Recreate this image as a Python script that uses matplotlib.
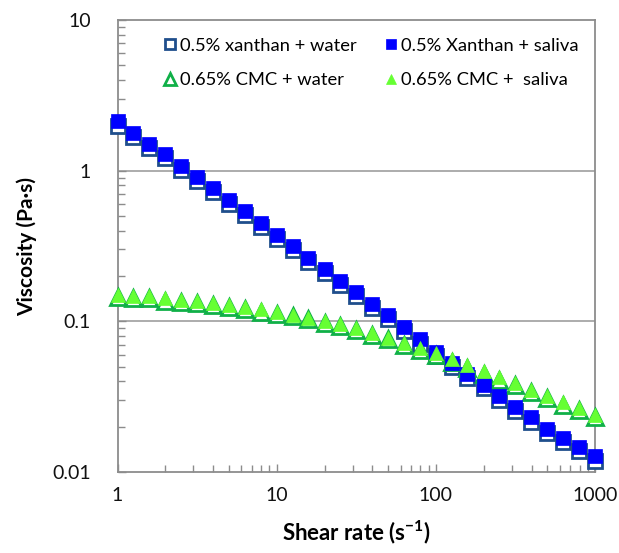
import numpy as np
import matplotlib
matplotlib.use("Agg")
import matplotlib.pyplot as plt
from matplotlib.ticker import FixedLocator, LogLocator, NullFormatter, FixedFormatter

# Shear rates (s^-1): 10 points per decade, 1 to 1000
shear_rate = [1.0, 1.26, 1.58, 2.0, 2.51, 3.16, 3.98, 5.01, 6.31, 7.94,
              10.0, 12.6, 15.8, 20.0, 25.1, 31.6, 39.8, 50.1, 63.1, 79.4,
              100.0, 126, 158, 200, 251, 316, 398, 501, 631, 794, 1000]

xanthan_water = [1.98, 1.67, 1.42, 1.21, 1.01, 0.86, 0.72, 0.60, 0.51, 0.42,
                 0.353, 0.296, 0.249, 0.209, 0.175, 0.147, 0.123, 0.103, 0.086, 0.071,
                 0.059, 0.050, 0.042, 0.036, 0.030, 0.0255, 0.0216, 0.0182, 0.0158, 0.0138, 0.0119]
xanthan_saliva = [2.12, 1.78, 1.51, 1.29, 1.07, 0.91, 0.77, 0.64, 0.54, 0.45,
                  0.376, 0.315, 0.265, 0.223, 0.186, 0.157, 0.131, 0.110, 0.092, 0.076,
                  0.063, 0.053, 0.045, 0.038, 0.032, 0.027, 0.023, 0.0194, 0.0169, 0.0147, 0.0127]
cmc_water = [0.145, 0.142, 0.142, 0.137, 0.135, 0.132, 0.128, 0.125, 0.120, 0.116,
             0.112, 0.108, 0.103, 0.098, 0.093, 0.087, 0.081, 0.076, 0.070, 0.065,
             0.060, 0.054, 0.049, 0.045, 0.041, 0.038, 0.034, 0.031, 0.028, 0.0256, 0.0231]
cmc_saliva = [0.149, 0.147, 0.147, 0.142, 0.139, 0.136, 0.132, 0.129, 0.124, 0.120,
              0.115, 0.111, 0.106, 0.101, 0.096, 0.090, 0.084, 0.078, 0.072, 0.067,
              0.062, 0.056, 0.051, 0.047, 0.043, 0.039, 0.035, 0.032, 0.029, 0.0264, 0.0238]

labels = ["0.5% xanthan + water", "0.5% Xanthan + saliva",
          "0.65% CMC + water", "0.65% CMC +  saliva"]
x_ticks = [1, 10, 100, 1000]
x_tick_labels = ["1", "10", "100", "1000"]
y_ticks = [0.01, 0.1, 1, 10]
y_tick_labels = ["0.01", "0.1", "1", "10"]

plt.rcParams['font.family'] = ['Lato', 'DejaVu Sans']
plt.rcParams['mathtext.fontset'] = 'custom'
plt.rcParams['mathtext.rm'] = 'Lato'
plt.rcParams['mathtext.bf'] = 'Lato:bold'

fig = plt.figure(figsize=(6.19, 5.53), dpi=100)
ax = fig.add_axes([117.5 / 619, 1 - 472 / 553, (595 - 117.5) / 619, (472 - 20) / 553])

ax.set_xscale('log')
ax.set_yscale('log')
ax.set_xlim(1, 1000)
ax.set_ylim(0.01, 10)

grid_c = '#a6a6a6'
for yv in [0.1, 1]:
    ax.axhline(yv, color=grid_c, lw=1.3, zorder=1)

h1, = ax.plot(shear_rate, xanthan_water, linestyle='none', marker='s', ms=10.5,
              mfc='white', mec='#1f4e8c', mew=2.0, zorder=3, clip_on=False)
h3, = ax.plot(shear_rate, cmc_water, linestyle='none', marker='^', ms=11,
              mfc='white', mec='#10b048', mew=2.0, zorder=3, clip_on=False)
h2, = ax.plot(shear_rate, xanthan_saliva, linestyle='none', marker='s', ms=9.5,
              mfc='#0000ff', mec='#0000ff', mew=0.5, zorder=4, clip_on=False)
h4, = ax.plot(shear_rate, cmc_saliva, linestyle='none', marker='^', ms=10,
              mfc='#66ff33', mec='#66ff33', mew=0.5, zorder=4, clip_on=False)

for s in ax.spines.values():
    s.set_color('#8c8c8c')
    s.set_linewidth(1.3)

ax.xaxis.set_major_locator(FixedLocator(x_ticks))
ax.xaxis.set_major_formatter(FixedFormatter(x_tick_labels))
ax.xaxis.set_minor_locator(LogLocator(base=10, subs=np.arange(2, 10)))
ax.xaxis.set_minor_formatter(NullFormatter())
ax.yaxis.set_major_locator(FixedLocator(y_ticks))
ax.yaxis.set_major_formatter(FixedFormatter(y_tick_labels))
ax.yaxis.set_minor_locator(LogLocator(base=10, subs=np.arange(2, 10)))
ax.yaxis.set_minor_formatter(NullFormatter())

ax.tick_params(axis='both', which='both', direction='in', color='#8c8c8c',
               width=1.0, labelsize=14, labelcolor='#111111')
ax.tick_params(axis='both', which='minor', length=5)
ax.tick_params(axis='both', which='major', length=6)
ax.tick_params(axis='x', which='major', pad=11)
ax.tick_params(axis='y', which='major', pad=19)

ax.set_xlabel("Shear rate (s$^{\\mathbf{-1}}$)", fontsize=16, fontweight='bold',
              labelpad=10)
ax.set_ylabel("Viscosity (Pa·s)", fontsize=15, fontweight='bold', labelpad=11)

leg = ax.legend([h1, h3, h2, h4], [labels[0], labels[2], labels[1], labels[3]],
                ncol=2, loc='upper left', bbox_to_anchor=(0.075, 0.977),
                frameon=False, fontsize=13.2, handletextpad=0.05, columnspacing=1.36,
                labelspacing=1.0, handlelength=1.0, borderaxespad=0, markerscale=0.75)

fig.savefig("out.png", dpi=100)
